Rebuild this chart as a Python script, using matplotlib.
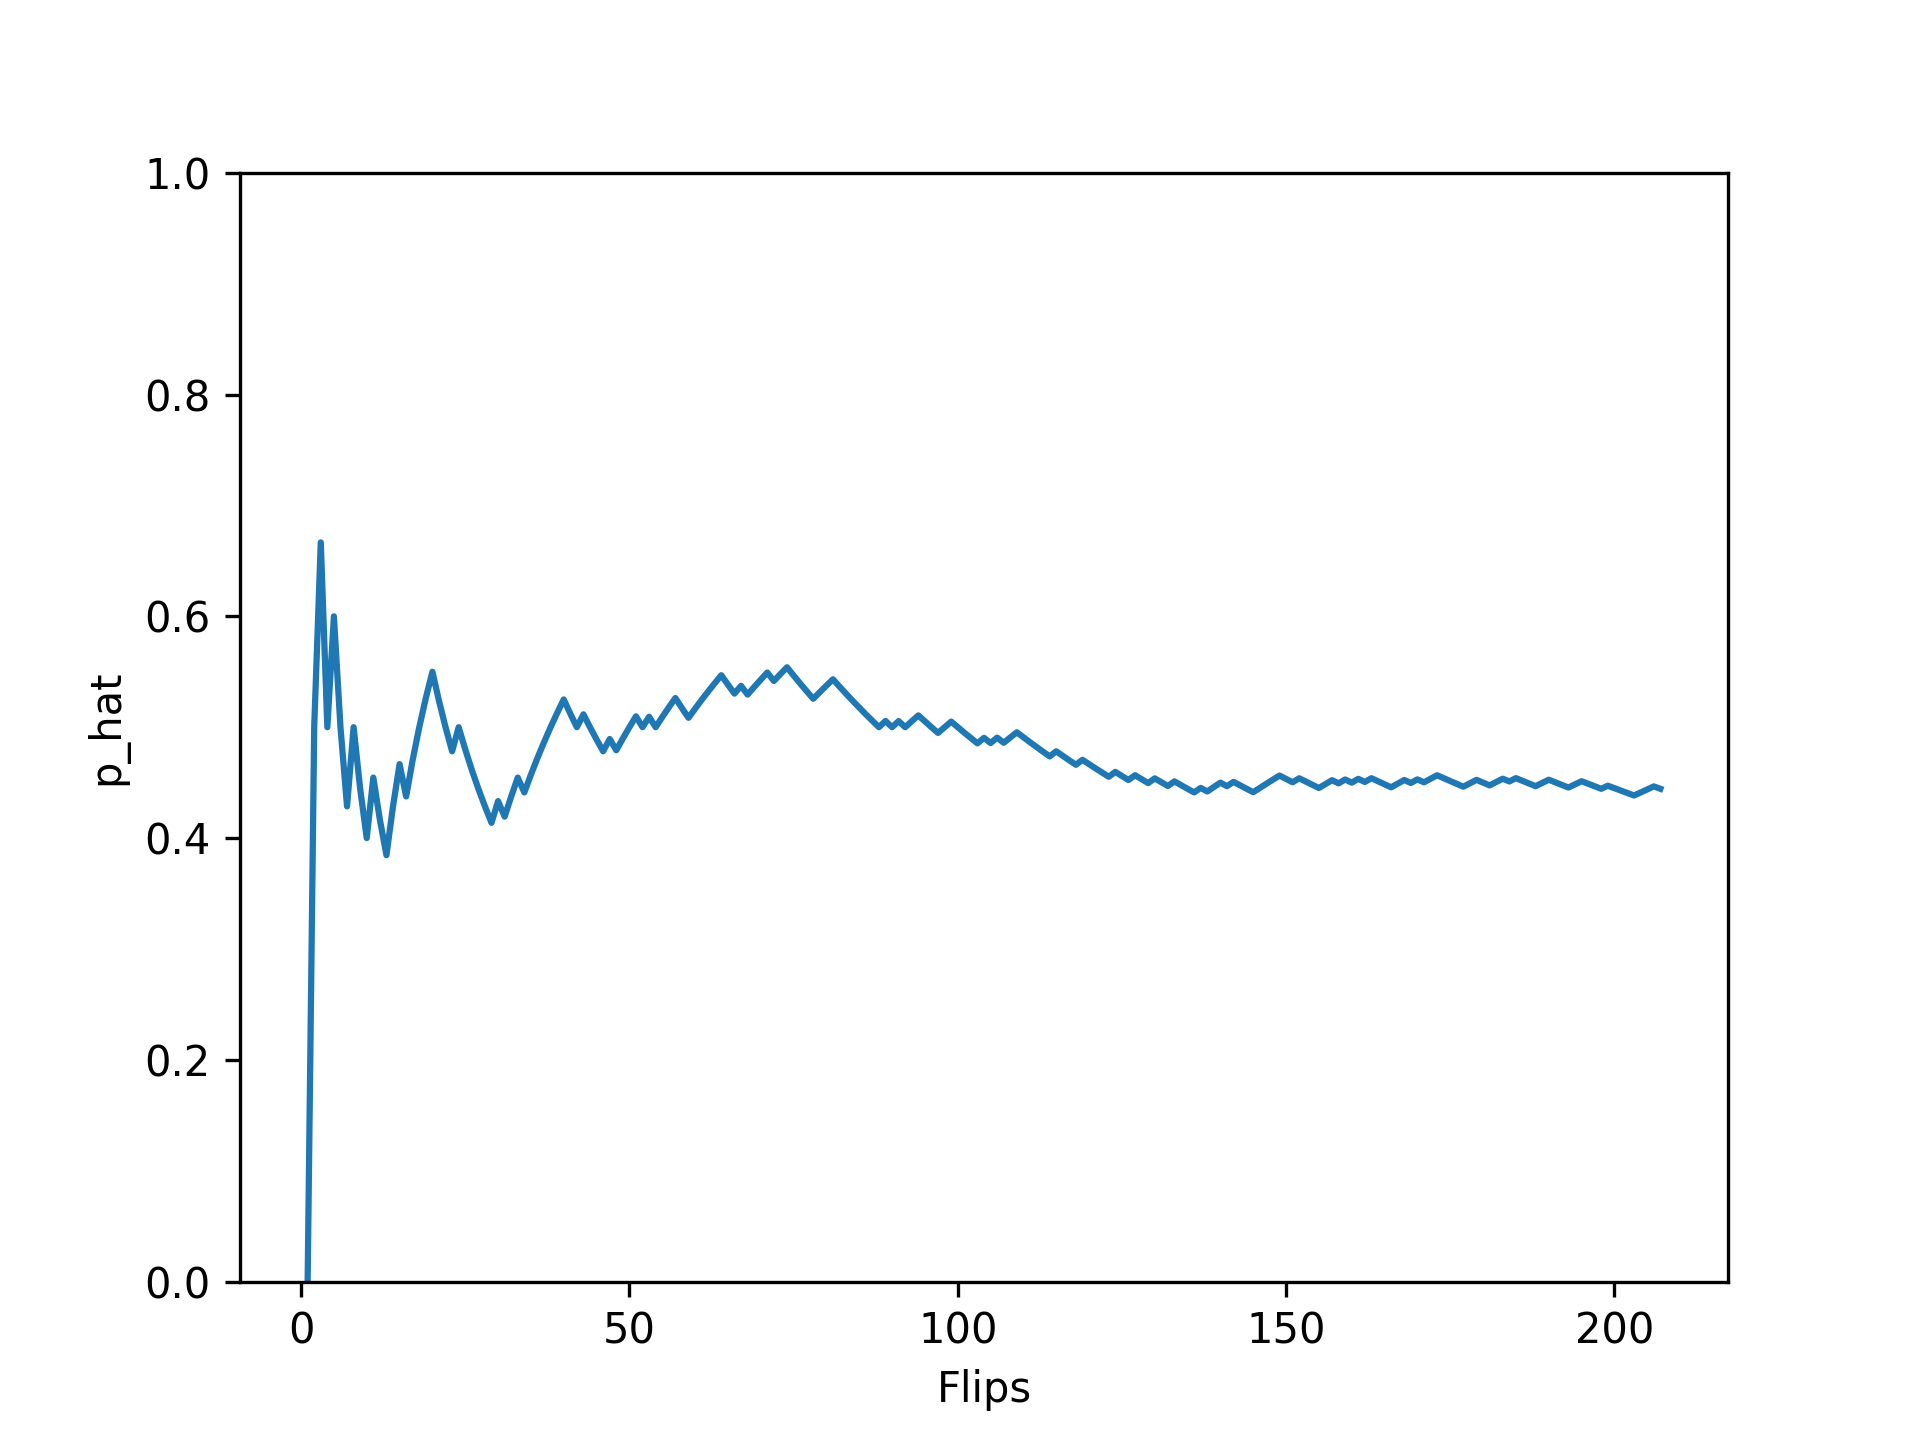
import numpy as np
import matplotlib
matplotlib.use("Agg")
import matplotlib.pyplot as plt

# Coin flip outcomes (H = heads, T = tails), flips 1..207
flips = (
    "THHTHTTHTTHTTHHT"          # 1-16
    "HHHHTTTHTTTTTHTHHT"        # 17-34
    "HHHHHHTTHTTTHTHHHTHT"      # 35-54
    "HHHTTHHHHHTTHTHHHTHH"      # 55-74
    "TTTTHHHTTTTTTTHTHTHHTTTHH" # 75-99
    "TTTTHTHTHHTTTTTHTTTH"      # 100-119
    "TTTTHTTHTTHTTHTTTHTHHTH"   # 120-142
    "TTTHHHHTTHTTTHHTHTHTH"     # 143-163
    "TTTHHTHTHH"                # 164-173
    "TTTTHHTTHHTHTTTHH"         # 174-190
    "TTTHHTTTHTTTTHHHT"         # 191-207
)

heads = np.array([1 if c == "H" else 0 for c in flips])
n = np.arange(1, len(heads) + 1)
p_hat = np.cumsum(heads) / n

fig, ax = plt.subplots(figsize=(6.4, 4.8), dpi=300)
ax.plot(n, p_hat)
ax.set_ylim(0, 1)
ax.set_xlabel("Flips")
ax.set_ylabel("p_hat")

fig.savefig("out.png", dpi=300)
